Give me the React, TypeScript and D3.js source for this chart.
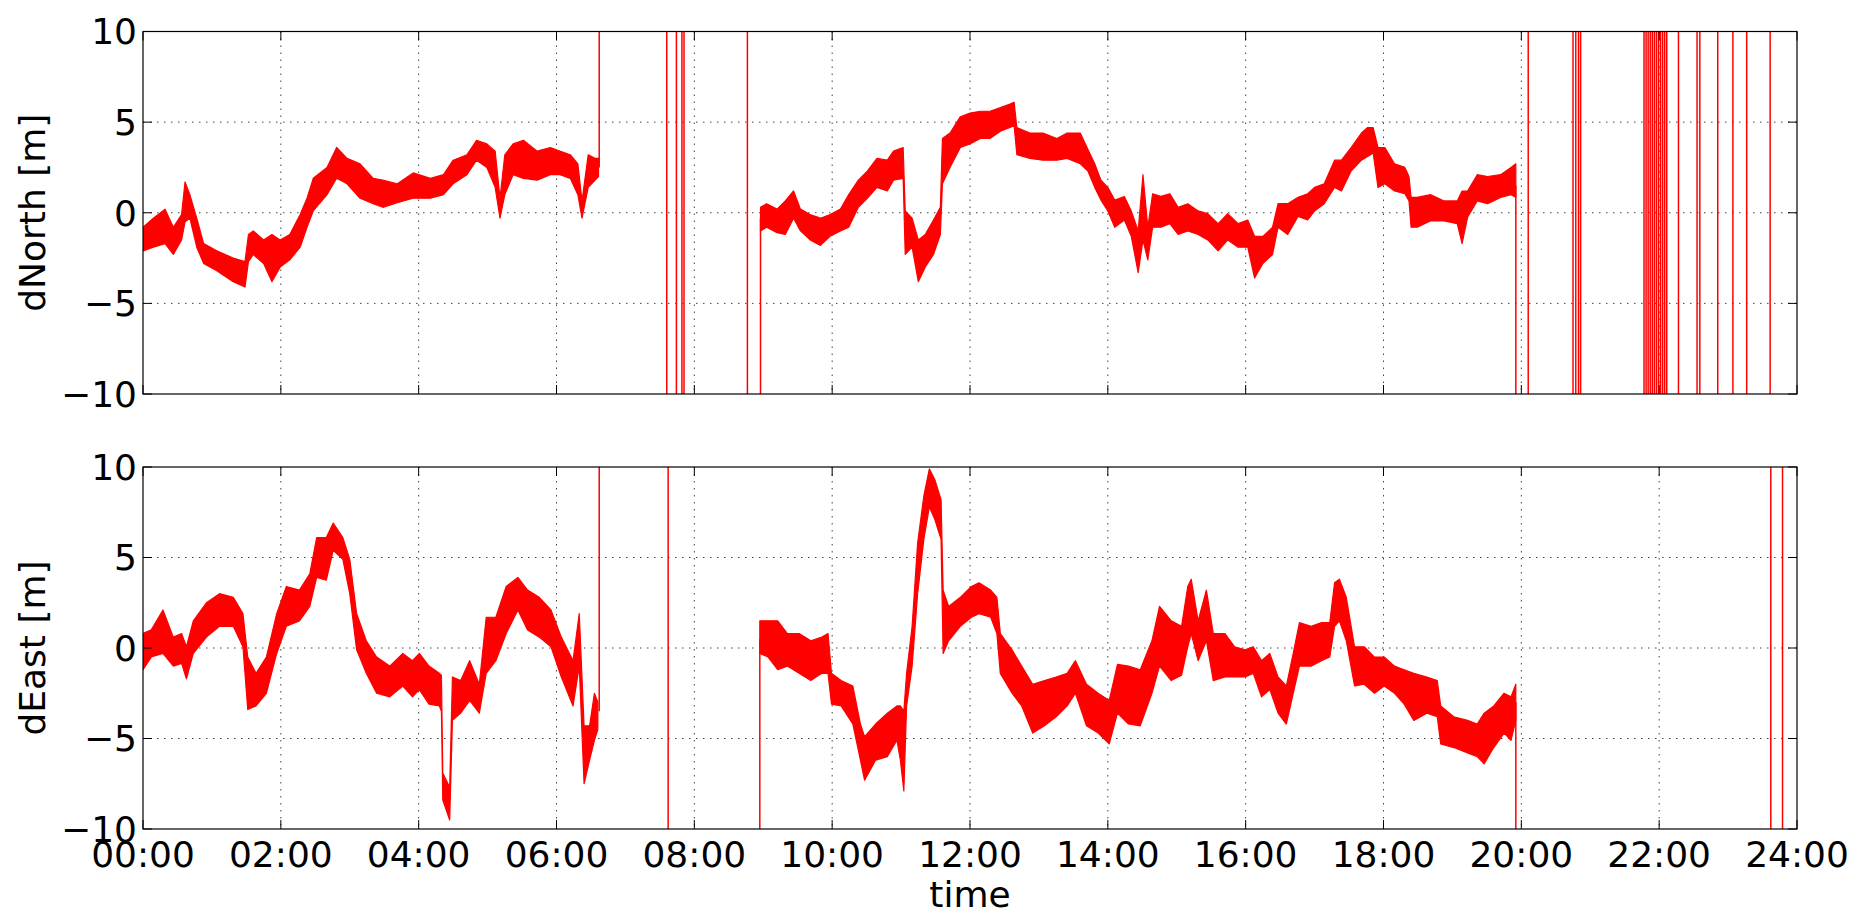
import React from "react";
import * as d3 from "d3";

// hours since 00:00, then low / high edge of the noisy trace in metres
const northA: number[][] = [
  [0, -2.1, -0.8], [0.15, -1.9, -0.3], [0.32, -1.7, 0.2], [0.44, -2.3, -0.8],
  [0.56, -1.5, -0.1], [0.61, -0.5, 1.7], [0.68, -0.3, 1.0], [0.78, -1.9, -0.3],
  [0.88, -2.8, -1.7], [1.07, -3.2, -2.1], [1.31, -3.8, -2.5], [1.48, -4.1, -2.7],
  [1.53, -2.7, -1.2], [1.6, -2.3, -1.0], [1.75, -2.8, -1.5], [1.87, -3.8, -1.2],
  [1.99, -3.0, -1.5], [2.13, -2.6, -1.2], [2.28, -1.9, -0.1], [2.38, -0.8, 0.8],
  [2.47, 0.1, 1.9], [2.67, 1.0, 2.5], [2.81, 1.9, 3.6], [2.96, 1.6, 3.0],
  [3.15, 0.8, 2.7], [3.34, 0.5, 1.9], [3.48, 0.3, 1.8], [3.69, 0.55, 1.6],
  [3.92, 0.8, 2.2], [4.17, 0.8, 1.9], [4.36, 1.0, 2.1], [4.5, 1.6, 2.9],
  [4.7, 2.1, 3.2], [4.84, 2.9, 4.0], [4.99, 2.5, 3.8], [5.11, 1.4, 3.4],
  [5.18, -0.3, 0.8], [5.25, 1.0, 3.2], [5.37, 2.1, 3.8], [5.52, 1.9, 4.0],
  [5.72, 1.8, 3.4], [5.91, 2.1, 3.6], [6.05, 2.1, 3.4], [6.2, 1.9, 3.2],
  [6.31, 1.0, 2.7], [6.37, -0.3, 0.65], [6.46, 1.4, 3.2], [6.56, 1.8, 3.0],
  [6.61, 2.0, 3.0],
];

const northB: number[][] = [
  [8.96, -1.0, 0.3], [9.05, -0.8, 0.5], [9.2, -1.1, 0.2], [9.32, -1.2, 0.65],
  [9.44, -0.3, 1.2], [9.54, -1.0, 0.2], [9.68, -1.5, -0.1], [9.83, -1.8, -0.3],
  [9.97, -1.3, -0.1], [10.12, -1.0, 0.2], [10.24, -0.8, 1.0], [10.38, 0.3, 1.8],
  [10.51, 0.8, 2.3], [10.65, 1.4, 3.0], [10.8, 1.2, 2.9], [10.89, 1.8, 3.4],
  [11.03, 1.9, 3.6], [11.06, -2.3, 0.1], [11.16, -1.9, -0.3], [11.25, -3.8, -1.5],
  [11.35, -3.0, -1.2], [11.47, -2.3, -0.4], [11.57, -1.2, 0.3], [11.6, 1.6, 4.1],
  [11.71, 2.5, 4.4], [11.86, 3.6, 5.3], [12.0, 3.8, 5.5], [12.15, 4.1, 5.6],
  [12.29, 4.1, 5.6], [12.44, 4.5, 5.8], [12.58, 4.7, 6.0], [12.64, 4.8, 6.1],
  [12.68, 3.2, 4.7], [12.87, 3.0, 4.4], [13.06, 2.9, 4.4], [13.26, 2.9, 4.1],
  [13.41, 3.0, 4.4], [13.6, 2.7, 4.4], [13.71, 2.3, 3.5], [13.81, 1.4, 2.7],
  [13.9, 0.7, 1.8], [14.0, 0.1, 1.4], [14.1, -0.8, 0.7], [14.24, -0.4, 0.9],
  [14.34, -1.3, 0.1], [14.44, -3.3, -1.0], [14.51, -1.5, 2.1], [14.58, -2.6, -0.8],
  [14.65, -0.8, 1.05], [14.77, -0.8, 0.9], [14.9, -0.6, 1.05], [15.02, -1.2, 0.3],
  [15.16, -1.0, 0.5], [15.31, -1.2, 0.1], [15.45, -1.5, -0.05], [15.6, -2.1, -0.6],
  [15.74, -1.5, -0.05], [15.89, -1.9, -0.6], [16.03, -1.9, -0.4], [16.13, -3.6, -1.3],
  [16.25, -2.8, -1.3], [16.39, -2.3, -0.8], [16.47, -0.8, 0.5], [16.61, -1.2, 0.5],
  [16.76, -0.2, 0.85], [16.9, -0.4, 1.05], [17.0, 0.1, 1.4], [17.14, 0.5, 1.6],
  [17.29, 1.4, 2.9], [17.39, 1.2, 2.9], [17.53, 2.3, 3.6], [17.68, 2.9, 4.4],
  [17.77, 3.1, 4.7], [17.85, 3.3, 4.7], [17.92, 1.4, 3.6], [18.02, 1.6, 3.6],
  [18.16, 1.2, 2.7], [18.31, 1.05, 2.5], [18.37, 0.65, 2.0], [18.4, -0.8, 0.85],
  [18.49, -0.8, 0.85], [18.68, -0.45, 1.0], [18.88, -0.45, 0.65], [19.07, -0.6, 0.65],
  [19.14, -1.7, 1.2], [19.22, -0.25, 1.2], [19.36, 0.65, 2.1], [19.51, 0.5, 2.0],
  [19.7, 0.85, 2.1], [19.85, 1.0, 2.5], [19.92, 0.85, 2.7],
];

const eastA: number[][] = [
  [0, -1.2, 0.8], [0.12, -0.5, 1.0], [0.29, -0.3, 2.1], [0.44, -1.0, 0.6],
  [0.56, -0.85, 0.8], [0.63, -1.7, 0.07], [0.73, -0.3, 1.5], [0.92, 0.6, 2.5],
  [1.11, 1.2, 3.0], [1.31, 1.2, 2.8], [1.45, 0.07, 1.9], [1.52, -3.4, -0.5],
  [1.64, -3.2, -1.4], [1.79, -2.5, -0.5], [1.94, -0.3, 1.9], [2.08, 1.2, 3.4],
  [2.27, 1.5, 3.2], [2.42, 2.3, 4.1], [2.52, 3.9, 6.1], [2.66, 3.75, 6.1],
  [2.76, 5.4, 6.9], [2.9, 4.9, 6.1], [3.0, 3.0, 4.9], [3.1, -0.1, 1.9],
  [3.24, -1.4, 0.4], [3.39, -2.5, -0.5], [3.58, -2.7, -1.0], [3.77, -2.1, -0.3],
  [3.91, -2.7, -0.7], [4.01, -2.3, -0.3], [4.15, -3.1, -1.0], [4.3, -3.2, -1.4],
  [4.33, -3.5, -1.5], [4.35, -8.4, -6.9], [4.45, -9.5, -7.7], [4.49, -4.0, -1.6],
  [4.61, -3.6, -1.8], [4.74, -2.9, -0.7], [4.88, -3.6, -2.0], [4.98, -1.4, 1.7],
  [5.12, -0.7, 1.7], [5.27, 0.8, 3.4], [5.44, 2.1, 3.9], [5.58, 1.0, 3.2],
  [5.75, 0.6, 2.8], [5.92, 0.07, 2.1], [6.07, -1.6, 0.6], [6.24, -3.2, -0.7],
  [6.33, -1.0, 1.9], [6.4, -7.5, -4.3], [6.48, -6.2, -4.3], [6.55, -5.1, -2.5],
  [6.6, -4.5, -3.0],
];

const eastB: number[][] = [
  [8.95, -0.3, 1.5], [9.07, -0.5, 1.5], [9.21, -1.2, 1.5], [9.35, -1.0, 0.8],
  [9.52, -1.4, 0.8], [9.69, -1.8, 0.4], [9.85, -1.4, 0.6], [9.94, -1.4, 0.8],
  [9.99, -3.1, -1.4], [10.13, -3.2, -1.8], [10.3, -4.2, -2.1], [10.41, -6.2, -4.2],
  [10.47, -7.3, -4.9], [10.63, -6.2, -4.2], [10.8, -6.0, -3.6], [10.94, -5.1, -3.2],
  [10.99, -6.2, -3.2], [11.04, -7.9, -3.5], [11.08, -3.2, -1.4], [11.16, -1.0, 1.2],
  [11.24, 3.0, 5.8], [11.33, 6.0, 8.4], [11.41, 7.8, 9.9], [11.49, 7.1, 9.3],
  [11.58, 6.0, 8.2], [11.61, -0.3, 3.2], [11.69, 0.4, 2.3], [11.86, 1.2, 2.8],
  [12.02, 1.7, 3.4], [12.13, 1.9, 3.6], [12.3, 1.7, 3.2], [12.39, 0.8, 2.8],
  [12.44, -1.4, 0.8], [12.61, -2.5, -0.1], [12.75, -3.2, -1.0], [12.91, -4.7, -2.0],
  [13.08, -4.3, -1.8], [13.25, -3.8, -1.6], [13.41, -3.2, -1.4], [13.53, -2.5, -0.7],
  [13.69, -4.3, -2.0], [13.86, -4.7, -2.5], [14.02, -5.3, -2.9], [14.14, -3.6, -0.9],
  [14.3, -4.2, -1.0], [14.47, -4.3, -1.2], [14.64, -2.5, 0.4], [14.75, -1.0, 2.3],
  [14.92, -1.8, 1.5], [15.07, -1.5, 1.2], [15.16, 0.07, 3.4], [15.21, 0.8, 3.8],
  [15.31, -0.7, 1.5], [15.43, 0.4, 3.2], [15.53, -1.8, 0.8], [15.7, -1.6, 0.8],
  [15.84, -1.6, 0.07], [15.99, -1.6, -0.1], [16.11, -1.4, 0.07], [16.23, -2.7, -0.7],
  [16.35, -2.3, -0.3], [16.47, -3.6, -1.6], [16.59, -4.2, -2.1], [16.69, -2.5, -0.3],
  [16.78, -1.0, 1.4], [16.95, -1.0, 1.2], [17.1, -0.7, 1.4], [17.22, -0.5, 1.4],
  [17.29, 1.2, 3.6], [17.36, 1.5, 3.8], [17.46, 0.4, 2.8], [17.58, -2.1, 0.07],
  [17.72, -2.0, 0.07], [17.87, -2.5, -0.5], [18.01, -2.1, -0.5], [18.16, -2.5, -1.0],
  [18.3, -3.1, -1.2], [18.44, -4.0, -1.4], [18.63, -3.6, -1.6], [18.78, -3.8, -1.8],
  [18.83, -5.3, -3.2], [19.02, -5.5, -3.8], [19.22, -5.8, -4.0], [19.36, -6.0, -4.2],
  [19.46, -6.4, -3.6], [19.6, -5.5, -3.2], [19.75, -4.7, -2.5], [19.85, -5.1, -2.7],
  [19.92, -4.0, -2.0],
];

// outliers: [hour, from, to] (off-scale jumps drawn as vertical strokes)
const northJumps: number[][] = [
  [6.62, 2.5, 10], [8.96, -10, -0.3], [19.92, 1.5, -10],
];
const northSpikes: number[] = [
  7.6, 7.74, 7.82, 7.85, 8.77, 20.1, 20.75, 20.79, 20.83, 20.86,
  21.78, 21.81, 21.84, 21.87, 21.9, 21.93, 21.96, 21.99, 22.02, 22.05, 22.08, 22.11,
  22.28, 22.55, 22.59, 22.85, 23.07, 23.27, 23.61,
];
const eastJumps: number[][] = [
  [6.62, -3.5, 10], [8.95, -10, 0.5], [19.92, -3.0, -10],
];
const eastSpikes: number[] = [7.62, 23.62, 23.79];

const xTicks = [0, 2, 4, 6, 8, 10, 12, 14, 16, 18, 20, 22, 24];
const xTickLabels = ["00:00", "02:00", "04:00", "06:00", "08:00", "10:00", "12:00",
  "14:00", "16:00", "18:00", "20:00", "22:00", "24:00"];
const yTicks = [-10, -5, 0, 5, 10];
const yTickLabels = ["\u221210", "\u22125", "0", "5", "10"];

const left = 143, right = 1797;
const font = "'DejaVu Sans', sans-serif";

const x = d3.scaleLinear().domain([0, 24]).range([left, right]);

function Panel({ top, bottom, segs, jumps, spikes, label, showX, id }: any) {
  const y = d3.scaleLinear().domain([-10, 10]).range([bottom, top]);
  const area = d3.area<number[]>()
    .x((d) => x(d[0]))
    .y0((d) => y(d[1]))
    .y1((d) => y(d[2]));
  const tick = 9;
  return (
    <g>
      <defs>
        <clipPath id={id}>
          <rect x={left} y={top} width={right - left} height={bottom - top} />
        </clipPath>
      </defs>
      {/* grid */}
      <g stroke="#444" strokeWidth={1} strokeDasharray="1.5,5.5">
        {xTicks.slice(1, -1).map((t) => (
          <line key={"gx" + t} x1={x(t)} x2={x(t)} y1={top} y2={bottom} />
        ))}
        {yTicks.slice(1, -1).map((t) => (
          <line key={"gy" + t} x1={left} x2={right} y1={y(t)} y2={y(t)} />
        ))}
      </g>
      {/* data */}
      <g clipPath={`url(#${id})`}>
        {segs.map((s: number[][], i: number) => (
          <path key={i} d={area(s) as string} fill="#ff0000" stroke="#ff0000"
            strokeWidth={1.2} strokeLinejoin="round" />
        ))}
        {jumps.map((j: number[], i: number) => (
          <line key={"j" + i} x1={x(j[0])} x2={x(j[0])} y1={y(j[1])} y2={y(j[2])}
            stroke="#ff0000" strokeWidth={1.5} />
        ))}
        {spikes.map((t: number, i: number) => (
          <line key={"s" + i} x1={x(t)} x2={x(t)} y1={top} y2={bottom}
            stroke="#ff0000" strokeWidth={1.5} />
        ))}
      </g>
      {/* frame & ticks */}
      <rect x={left} y={top} width={right - left} height={bottom - top}
        fill="none" stroke="#000" strokeWidth={1.2} />
      <g stroke="#000" strokeWidth={1}>
        {xTicks.map((t) => (
          <g key={"tx" + t}>
            <line x1={x(t)} x2={x(t)} y1={bottom} y2={bottom - tick} />
            <line x1={x(t)} x2={x(t)} y1={top} y2={top + tick} />
          </g>
        ))}
        {yTicks.map((t) => (
          <g key={"ty" + t}>
            <line x1={left} x2={left + tick} y1={y(t)} y2={y(t)} />
            <line x1={right} x2={right - tick} y1={y(t)} y2={y(t)} />
          </g>
        ))}
      </g>
      <g fontFamily={font} fontSize={36} fill="#000">
        {yTicks.map((t, i) => (
          <text key={"ly" + t} x={left - 6} y={y(t)} dy="0.36em" textAnchor="end">
            {yTickLabels[i]}
          </text>
        ))}
        {showX && xTicks.map((t, i) => (
          <text key={"lx" + t} x={x(t)} y={bottom + 38} textAnchor="middle">
            {xTickLabels[i]}
          </text>
        ))}
        <text transform={`translate(45,${(top + bottom) / 2}) rotate(-90)`}
          textAnchor="middle">{label}</text>
      </g>
    </g>
  );
}

export default function App() {
  return (
    <svg width={1860} height={914}
      style={{ position: "absolute", left: 0, top: 0, background: "#fff" }}>
      <rect width={1860} height={914} fill="#fff" />
      <Panel id="clipN" top={31.5} bottom={394} segs={[northA, northB]}
        jumps={northJumps} spikes={northSpikes} label="dNorth [m]" showX={false} />
      <Panel id="clipE" top={467} bottom={829} segs={[eastA, eastB]}
        jumps={eastJumps} spikes={eastSpikes} label="dEast [m]" showX={true} />
      <text x={x(12)} y={907} textAnchor="middle" fontFamily={font} fontSize={36}>
        time
      </text>
    </svg>
  );
}
